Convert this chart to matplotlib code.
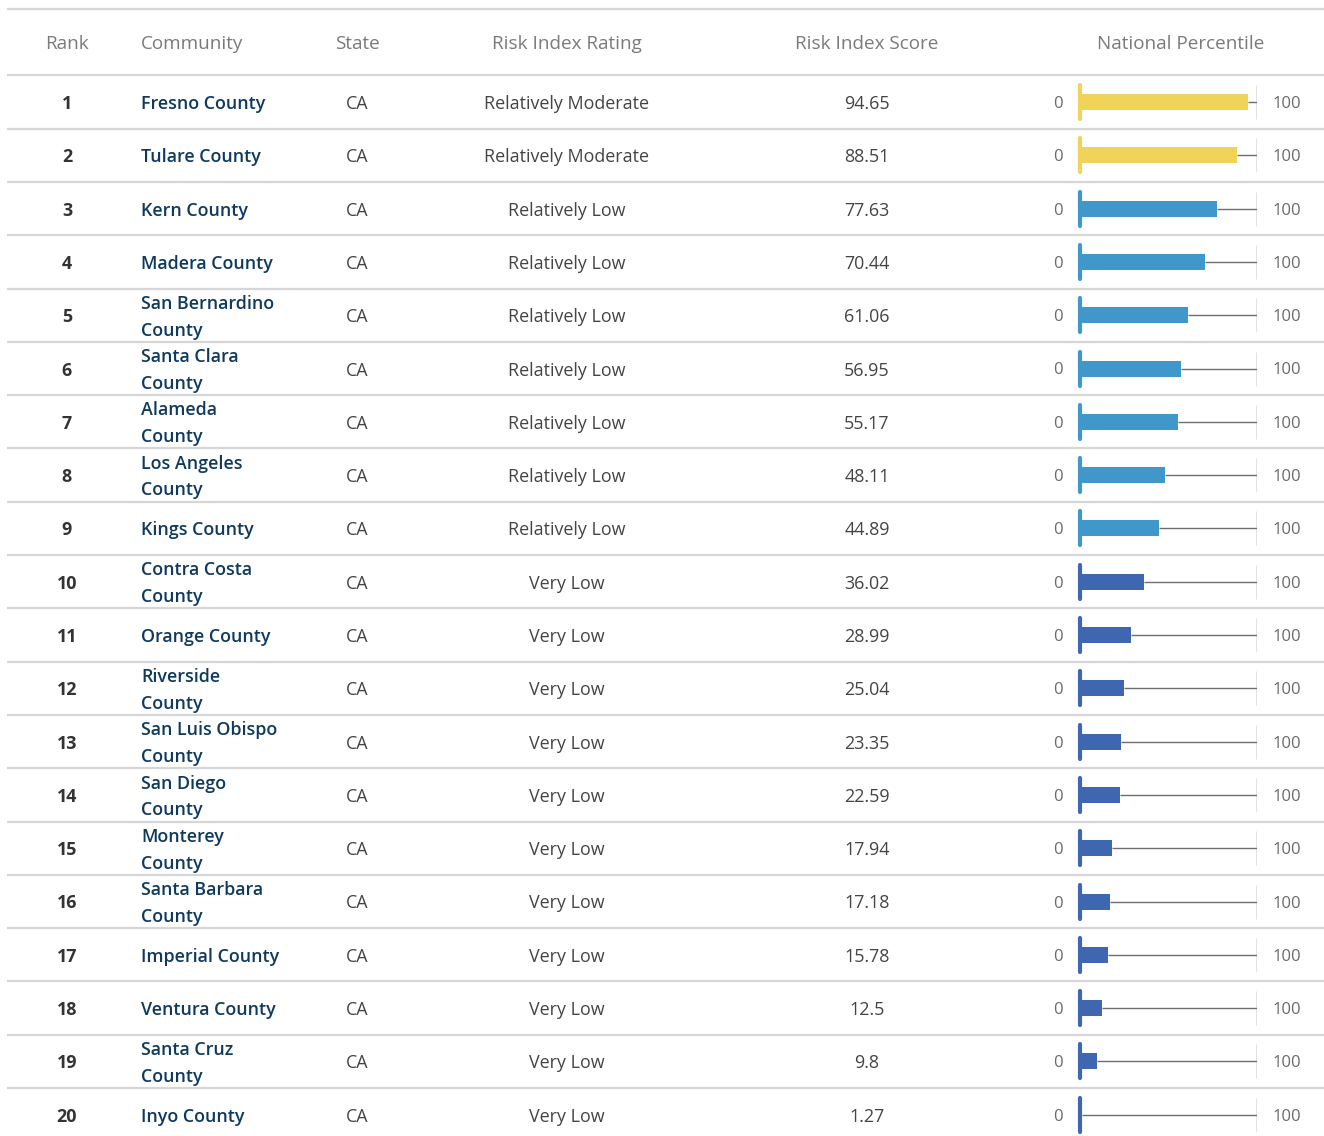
import matplotlib
matplotlib.use("Agg")
import matplotlib.pyplot as plt

ranks = list(range(1, 21))
communities = ["Fresno County", "Tulare County", "Kern County", "Madera County",
               "San Bernardino\nCounty", "Santa Clara\nCounty", "Alameda\nCounty",
               "Los Angeles\nCounty", "Kings County", "Contra Costa\nCounty",
               "Orange County", "Riverside\nCounty", "San Luis Obispo\nCounty",
               "San Diego\nCounty", "Monterey\nCounty", "Santa Barbara\nCounty",
               "Imperial County", "Ventura County", "Santa Cruz\nCounty", "Inyo County"]
states = ["CA"] * 20
ratings = ["Relatively Moderate"] * 2 + ["Relatively Low"] * 7 + ["Very Low"] * 11
scores = [94.65, 88.51, 77.63, 70.44, 61.06, 56.95, 55.17, 48.11, 44.89, 36.02,
          28.99, 25.04, 23.35, 22.59, 17.94, 17.18, 15.78, 12.5, 9.8, 1.27]
score_labels = ["94.65", "88.51", "77.63", "70.44", "61.06", "56.95", "55.17", "48.11",
                "44.89", "36.02", "28.99", "25.04", "23.35", "22.59", "17.94", "17.18",
                "15.78", "12.5", "9.8", "1.27"]
headers = ["Rank", "Community", "State", "Risk Index Rating", "Risk Index Score", "National Percentile"]
rating_colors = {"Relatively Moderate": "#F0D45A", "Relatively Low": "#3F98C9", "Very Low": "#3F66B0"}

W, H = 1324, 1136
FONT = "Open Sans"
plt.rcParams["font.family"] = [FONT, "DejaVu Sans"]

fig = plt.figure(figsize=(W / 100, H / 100), dpi=100)
ax = fig.add_axes([0, 0, 1, 1])
ax.set_xlim(0, W)
ax.set_ylim(H, 0)
ax.axis("off")

row0, rh = 102, 53.3
centers = [row0 + i * rh for i in range(20)]
fs = 12.9
dy = 2
grid = "#d6d6d6"

# header
hy = 42 + dy
hc = "#7a7a7a"
hfs = 13.6
ax.text(67, hy, headers[0], ha="center", va="center", fontsize=hfs, color=hc)
ax.text(141, hy, headers[1], ha="left", va="center", fontsize=hfs, color=hc)
ax.text(357, hy, headers[2], ha="center", va="center", fontsize=hfs, color=hc)
ax.text(567, hy, headers[3], ha="center", va="center", fontsize=hfs, color=hc)
ax.text(867, hy, headers[4], ha="center", va="center", fontsize=hfs, color=hc)
ax.text(1181, hy, headers[5], ha="center", va="center", fontsize=hfs, color=hc)

ax.hlines([9, 75], 7, W, color=grid, lw=1.6)
seps = [c + rh / 2 for c in centers[:-1]]
ax.hlines(seps, 7, W, color=grid, lw=1.6)

for i, c in enumerate(centers):
    ty = c + dy
    ax.text(67, ty, str(ranks[i]), ha="center", va="center", fontsize=fs, color="#333333", fontweight="bold")
    ax.text(141, ty, communities[i], ha="left", va="center", fontsize=fs, color="#0F3A5E",
            fontweight="semibold", linespacing=1.62)
    ax.text(357, ty, states[i], ha="center", va="center", fontsize=fs, color="#444444")
    ax.text(567, ty, ratings[i], ha="center", va="center", fontsize=fs, color="#444444")
    ax.text(867, ty, score_labels[i], ha="center", va="center", fontsize=fs, color="#444444")
    ax.text(1063, ty, "0", ha="right", va="center", fontsize=12, color="#6a6a6a")
    ax.text(1273, ty, "100", ha="left", va="center", fontsize=12, color="#6a6a6a")

# percentile bars
bx0, bx1 = 1080, 1257
bax = fig.add_axes([bx0 / W, 0, (bx1 - bx0) / W, 1])
bax.set_xlim(0, 100)
bax.set_ylim(H, 0)
bax.axis("off")
cols = [rating_colors[r] for r in ratings]
bax.hlines(centers, scores, 100, color="#6e6e6e", lw=1.0)
bax.vlines([100] * 20, [c - 17 for c in centers], [c + 17 for c in centers], color="#6e6e6e", lw=1.0)
bax.barh(centers, scores, height=16, left=0, color=cols)
for c, col in zip(centers, cols):
    bax.plot([0, 0], [c - 17, c + 17], color=col, lw=3, solid_capstyle="round", clip_on=False)

fig.savefig("out.png", dpi=100, facecolor="white")
